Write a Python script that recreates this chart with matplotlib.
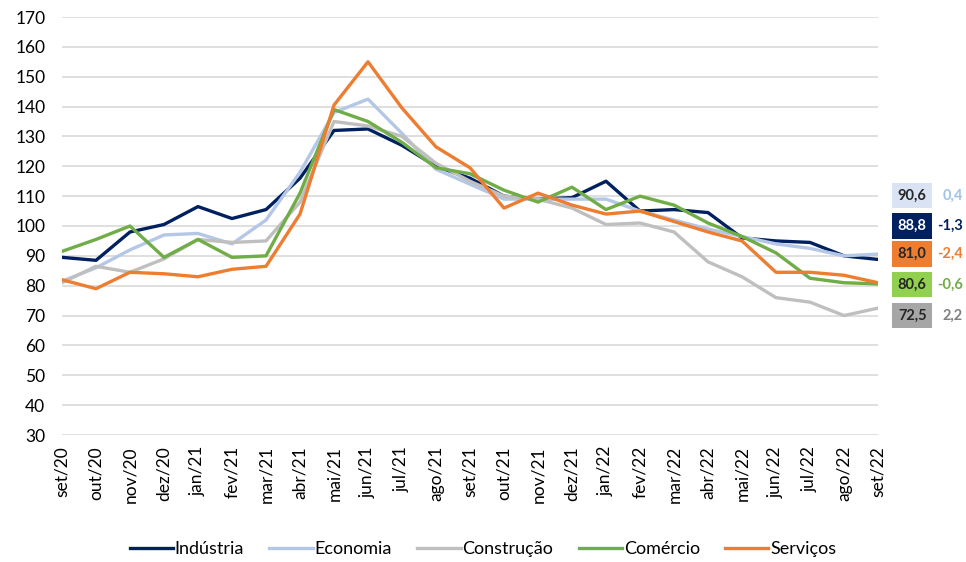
import numpy as np
import matplotlib.pyplot as plt

plt.rcParams['font.family'] = ['Lato', 'DejaVu Sans']

meses = ['set/20', 'out/20', 'nov/20', 'dez/20', 'jan/21', 'fev/21', 'mar/21', 'abr/21',
         'mai/21', 'jun/21', 'jul/21', 'ago/21', 'set/21', 'out/21', 'nov/21', 'dez/21',
         'jan/22', 'fev/22', 'mar/22', 'abr/22', 'mai/22', 'jun/22', 'jul/22', 'ago/22', 'set/22']

industria = [89.5, 88.5, 98, 100.5, 106.5, 102.5, 105.5, 116, 132, 132.5, 127, 120, 116,
             110, 109, 109.5, 115, 105, 105.5, 104.5, 96, 95, 94.5, 90, 88.8]
economia = [81.5, 86, 92, 97, 97.5, 94, 102, 118, 138, 142.5, 131, 119, 114,
            109, 109, 109, 109, 105, 102, 99, 96.5, 94, 92.5, 90, 90.6]
construcao = [81, 86.5, 84.5, 89, 95.5, 94.5, 95, 108, 135, 133.5, 130, 121, 115,
              110, 109, 106, 100.5, 101, 98, 88, 83, 76, 74.5, 70, 72.5]
comercio = [91.5, 95.5, 100, 89.5, 95.5, 89.5, 90, 111, 139, 135, 128, 119.5, 117.5,
            112, 108, 113, 105.5, 110, 107, 101, 96.5, 91, 82.5, 81, 80.6]
servicos = [82, 79, 84.5, 84, 83, 85.5, 86.5, 104, 140.5, 155, 139.5, 126.5, 119.5,
            106, 111, 107, 104, 105, 101.5, 98, 95, 84.5, 84.5, 83.5, 81]

# labels on the right: last value and change
ult_valor = ['90,6', '88,8', '81,0', '80,6', '72,5']
variacao = ['0,4', '-1,3', '-2,4', '-0,6', '2,2']

c_ind = '#002060'
c_eco = '#B4C7E7'
c_con = '#BFBFBF'
c_com = '#70AD47'
c_ser = '#ED7D31'

fig = plt.figure(figsize=(9.66, 5.62), dpi=100)
ax = fig.add_axes([62/966, 1 - 435/562, 816/966, 418/562])

x = np.arange(len(meses))
lw = 2.4
ax.plot(x, industria, color=c_ind, lw=lw, label='Indústria')
ax.plot(x, economia, color=c_eco, lw=lw, label='Economia')
ax.plot(x, construcao, color=c_con, lw=lw, label='Construção')
ax.plot(x, comercio, color=c_com, lw=lw, label='Comércio')
ax.plot(x, servicos, color=c_ser, lw=lw, label='Serviços')

ax.set_xlim(0, len(meses) - 1)
ax.set_ylim(30, 170)
ax.set_yticks(np.arange(30, 171, 10))
ax.set_xticks(x)
ax.set_xticklabels(meses, rotation=90, fontsize=12.5)
ax.tick_params(axis='y', labelsize=12.5, length=0, pad=12)
ax.tick_params(axis='x', length=0, pad=8)
ax.yaxis.grid(color='#D9D9D9', lw=1.2)
ax.set_axisbelow(True)
for s in ax.spines.values():
    s.set_visible(False)

# right side boxes
box_fc = ['#DAE3F3', c_ind, c_ser, '#92D050', '#A6A6A6']
box_tc = ['#262626', 'white', '#262626', '#262626', '#262626']
var_c = ['#9DC3E6', c_ind, c_ser, c_com, '#808080']
ys = [0.572, 0.500, 0.433, 0.359, 0.285]
for i in range(5):
    ax.text(1.042, ys[i], ult_valor[i], transform=ax.transAxes, ha='center', va='center',
            fontsize=10.5, fontweight='bold', color=box_tc[i], clip_on=False,
            bbox=dict(boxstyle='square,pad=0.38', fc=box_fc[i], ec='none'))
    ax.text(1.104, ys[i], variacao[i], transform=ax.transAxes, ha='right', va='center',
            fontsize=10.5, fontweight='bold', color=var_c[i], clip_on=False)

fig.legend(loc='center', bbox_to_anchor=(0.5, 1 - 549/562), ncol=5, frameon=False,
           fontsize=13, handlelength=2.4, handletextpad=0.1, columnspacing=1.4)

fig.savefig('out.png', dpi=100)
